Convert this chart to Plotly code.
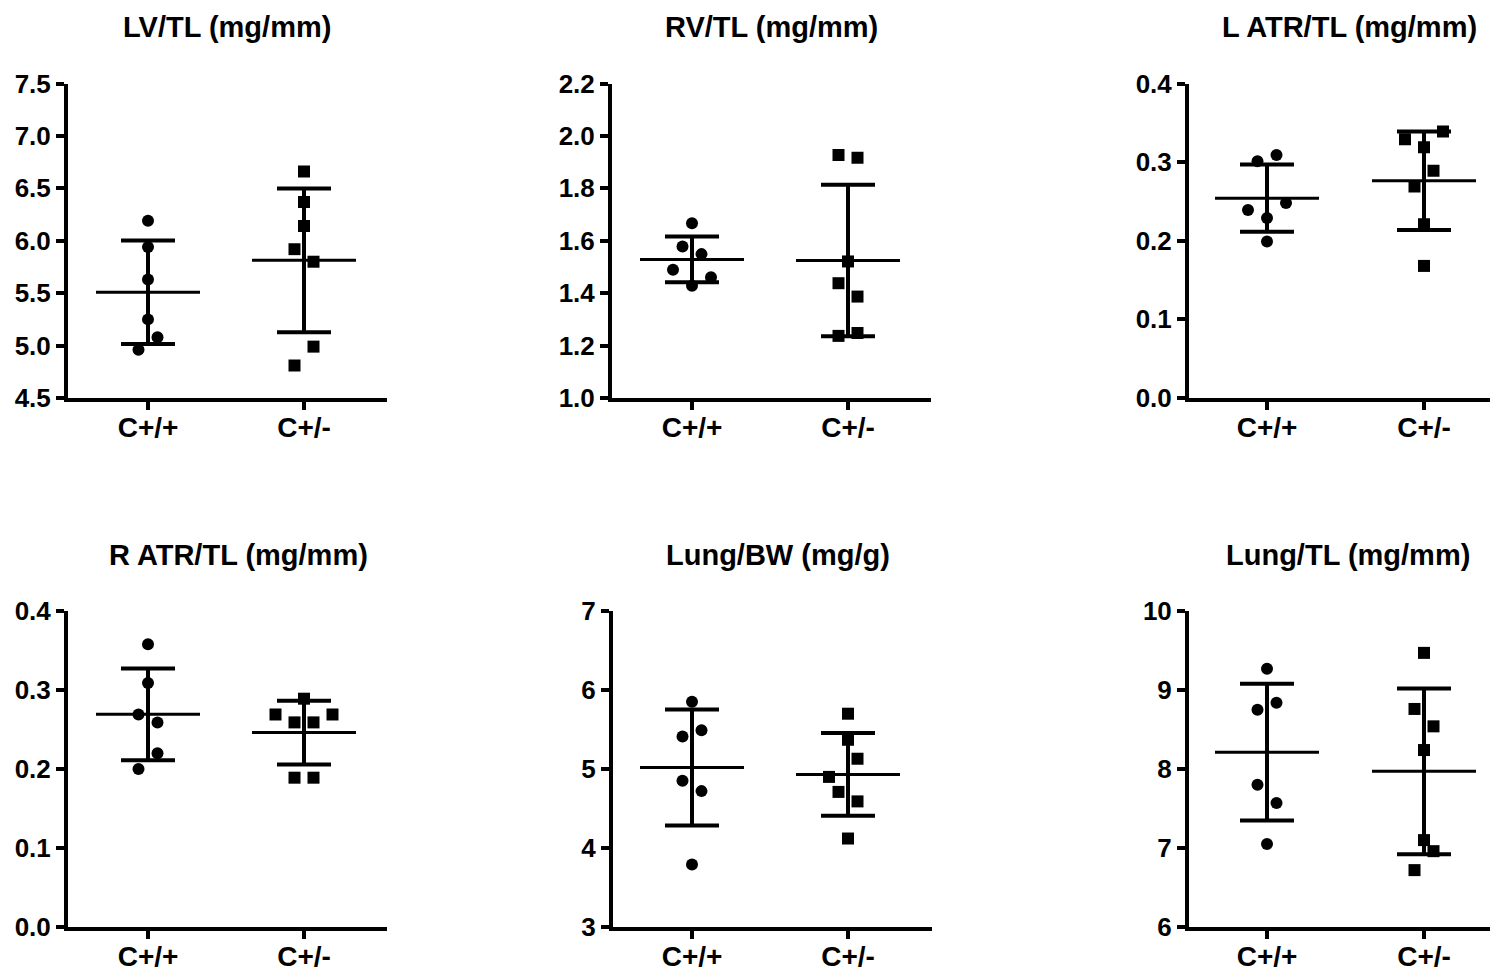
import plotly.graph_objects as go
import numpy as np

W, H = 1490, 971

# ---------------- data ----------------
groups = ["C+/+", "C+/-"]
titles = ["LV/TL (mg/mm)", "RV/TL (mg/mm)", "L ATR/TL (mg/mm)",
          "R ATR/TL (mg/mm)", "Lung/BW (mg/g)", "Lung/TL (mg/mm)"]

lv_wt = [6.19, 5.94, 5.63, 5.25, 5.08, 4.96]
lv_het = [6.66, 6.37, 6.14, 5.92, 5.80, 4.99, 4.81]
rv_wt = [1.667, 1.578, 1.549, 1.489, 1.461, 1.428]
rv_het = [1.927, 1.917, 1.521, 1.438, 1.387, 1.237, 1.248]
latr_wt = [0.301, 0.309, 0.239, 0.248, 0.229, 0.199]
latr_het = [0.329, 0.339, 0.319, 0.289, 0.269, 0.221, 0.168]
ratr_wt = [0.358, 0.309, 0.269, 0.259, 0.220, 0.200]
ratr_het = [0.289, 0.269, 0.269, 0.259, 0.259, 0.189, 0.189]
lbw_wt = [5.85, 5.41, 5.49, 4.85, 4.72, 3.79]
lbw_het = [5.70, 5.37, 5.13, 4.90, 4.71, 4.59, 4.12]
ltl_wt = [9.27, 8.75, 8.84, 7.80, 7.57, 7.05]
ltl_het = [9.47, 8.76, 8.54, 8.24, 7.10, 6.96, 6.72]

# scatter column slots (GraphPad-style point spreading)
lv_wt_slot = [0, 0, 0, 0, 1, -1]
lv_het_slot = [0, 0, 0, -1, 1, 1, -1]
rv_wt_slot = [0, -1, 1, -2, 2, 0]
rv_het_slot = [-1, 1, 0, -1, 1, -1, 1]
latr_wt_slot = [-1, 1, -2, 2, 0, 0]
latr_het_slot = [-2, 2, 0, 1, -1, 0, 0]
ratr_wt_slot = [0, 0, -1, 1, 1, -1]
ratr_het_slot = [0, -3, 3, -1, 1, -1, 1]
lbw_wt_slot = [0, -1, 1, -1, 1, 0]
lbw_het_slot = [0, 0, 1, -2, -1, 1, 0]
ltl_wt_slot = [0, -1, 1, -1, 1, 0]
ltl_het_slot = [0, -1, 1, 0, 0, 1, -1]

y_ranges = [(4.5, 7.5), (1.0, 2.2), (0.0, 0.4), (0.0, 0.4), (3, 7), (6, 10)]
y_dticks = [0.5, 0.2, 0.1, 0.1, 1, 1]
y_formats = [".1f", ".1f", ".1f", ".1f", "d", "d"]

panels_data = [
    (lv_wt, lv_het, lv_wt_slot, lv_het_slot),
    (rv_wt, rv_het, rv_wt_slot, rv_het_slot),
    (latr_wt, latr_het, latr_wt_slot, latr_het_slot),
    (ratr_wt, ratr_het, ratr_wt_slot, ratr_het_slot),
    (lbw_wt, lbw_het, lbw_wt_slot, lbw_het_slot),
    (ltl_wt, ltl_het, ltl_wt_slot, ltl_het_slot),
]

# ---------------- layout geometry (pixels) ----------------
# (axis x, right end, top, bottom, category0 x, category1 x, title center x, title y)
geom = [
    (68, 387, 83.5, 398, 148, 304, 227, 27),
    (612, 931, 83.5, 398, 692, 848, 771, 27),
    (1189, 1508, 83.5, 398, 1267, 1424, 1349, 27),
    (68, 387, 611, 927, 148, 304, 238, 555),
    (613, 932, 611, 927, 692, 848, 778, 555),
    (1189, 1508, 611, 927, 1267, 1424, 1348, 555),
]

FONT = "Arial, Liberation Sans, sans-serif"
fig = go.Figure()
layout = dict(width=W, height=H, margin=dict(l=0, r=0, t=0, b=0, pad=0, autoexpand=False),
              template="none",
              paper_bgcolor="white", plot_bgcolor="white", showlegend=False,
              annotations=[])

slot_px = 9.5
mean_half_px = 52
cap_half_px = 27

for i, ((wt, het, swt, shet), (ax, rx, ty, by, c0, c1, tcx, tty)) in enumerate(zip(panels_data, geom)):
    n = "" if i == 0 else str(i + 1)
    xa, ya = "x" + n, "y" + n
    unit = c1 - c0
    right = min(rx, W)
    xr = [-(c0 - ax) / unit, (right - c0) / unit]
    layout["xaxis" + n] = dict(
        domain=[ax / W, right / W], range=xr, anchor=ya, automargin=False,
        showline=True, linecolor="black", linewidth=4, mirror=False,
        ticks="outside", ticklen=8, tickwidth=4, tickcolor="black",
        ticklabelstandoff=-7,
        tickvals=[0, 1], ticktext=groups, showgrid=False, zeroline=False,
        tickfont=dict(family=FONT, size=28, color="black", weight="bold"),
        fixedrange=True)
    layout["yaxis" + n] = dict(
        domain=[1 - by / H, 1 - ty / H], range=list(y_ranges[i]), anchor=xa, automargin=False,
        showline=True, linecolor="black", linewidth=4,
        ticks="outside", ticklen=8, tickwidth=4, tickcolor="black",
        dtick=y_dticks[i], tick0=y_ranges[i][0], tickformat=y_formats[i],
        showgrid=False, zeroline=False,
        tickfont=dict(family=FONT, size=26, color="black", weight="bold"),
        fixedrange=True)
    layout["annotations"].append(dict(
        x=tcx / W, y=1 - tty / H, xref="paper", yref="paper",
        text="<b>%s</b>" % titles[i], showarrow=False, xanchor="center", yanchor="middle",
        font=dict(family=FONT, size=29, color="black")))

    for g, (vals, slots, sym, msize) in enumerate([(wt, swt, "circle", 12), (het, shet, "square", 12)]):
        vals = np.array(vals, dtype=float)
        m = vals.mean()
        sd = vals.std(ddof=1)
        xs = g + np.array(slots) * slot_px / unit
        mh = mean_half_px / unit
        # mean line
        fig.add_trace(go.Scatter(x=[g - mh, g + mh], y=[m, m], mode="lines",
                                 line=dict(color="black", width=3), xaxis=xa, yaxis=ya,
                                 hoverinfo="skip"))
        # SD error bar
        fig.add_trace(go.Scatter(x=[g], y=[m], mode="markers",
                                 marker=dict(size=1, color="rgba(0,0,0,0)"),
                                 error_y=dict(type="data", array=[sd], visible=True,
                                              color="black", thickness=4, width=cap_half_px),
                                 xaxis=xa, yaxis=ya, hoverinfo="skip"))
        # points
        fig.add_trace(go.Scatter(x=xs, y=vals, mode="markers",
                                 marker=dict(symbol=sym, size=msize, color="black",
                                             line=dict(width=0)),
                                 xaxis=xa, yaxis=ya))

fig.update_layout(**layout)
fig.write_html("out.html")
